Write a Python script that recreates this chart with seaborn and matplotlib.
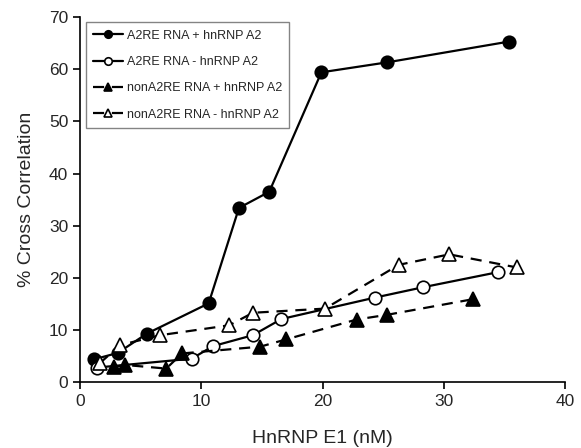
import pandas as pd
import matplotlib
matplotlib.use('Agg')
import matplotlib.pyplot as plt
import seaborn as sns

# valores
a2re_mais_x = [1.1, 3.1, 5.5, 10.6, 13.1, 15.6, 19.9, 25.3, 35.4]
a2re_mais_y = [4.35, 5.6, 9.3, 15.1, 33.4, 36.5, 59.4, 61.3, 65.3]

a2re_menos_x = [1.4, 9.2, 10.95, 14.25, 16.6, 24.3, 28.3, 34.5]
a2re_menos_y = [2.8, 4.5, 6.9, 9.0, 12.1, 16.2, 18.2, 21.1]

non_mais_x = [2.75, 3.7, 7.1, 8.4, 14.85, 17.0, 22.8, 25.3, 32.4]
non_mais_y = [2.9, 3.3, 2.6, 5.5, 6.8, 8.2, 12.0, 12.9, 15.9]

non_menos_x = [1.6, 3.3, 6.6, 12.3, 14.25, 20.2, 26.3, 30.45, 36.0]
non_menos_y = [3.6, 7.1, 9.0, 10.9, 13.3, 14.1, 22.5, 24.5, 22.0]

nomes = ['A2RE RNA + hnRNP A2', 'A2RE RNA - hnRNP A2',
         'nonA2RE RNA + hnRNP A2', 'nonA2RE RNA - hnRNP A2']

sns.set_style('ticks')
plt.rcParams['font.family'] = ['Liberation Sans', 'DejaVu Sans']

fig, ax = plt.subplots(figsize=(5.81, 4.48), dpi=100)
fig.subplots_adjust(left=0.138, right=0.9725, top=0.962, bottom=0.147)

series = [
    (a2re_mais_x, a2re_mais_y, 'o', 'black', '-'),
    (a2re_menos_x, a2re_menos_y, 'o', 'white', '-'),
    (non_mais_x, non_mais_y, '^', 'black', (0, (5, 3.5))),
    (non_menos_x, non_menos_y, '^', 'white', (0, (5, 3.5))),
]

for (xs, ys, mk, fc, ls), nome in zip(series, nomes):
    df = pd.DataFrame({'x': xs, 'y': ys})
    sns.lineplot(data=df, x='x', y='y', ax=ax, color='black', linestyle=ls,
                 linewidth=1.6, marker=mk, markersize=9 if mk == 'o' else 10,
                 markerfacecolor=fc, markeredgecolor='black',
                 markeredgewidth=1.2, label=nome, sort=False)

ax.set_xlim(0, 40)
ax.set_ylim(0, 70)
ax.set_xticks([0, 10, 20, 30, 40])
ax.set_yticks(range(0, 71, 10))
ax.tick_params(direction='out', length=5, width=1.2, labelsize=12.5, color='black')
for s in ['left', 'bottom']:
    ax.spines[s].set_linewidth(1.2)
    ax.spines[s].set_color('black')
sns.despine(ax=ax)

ax.set_xlabel('HnRNP E1 (nM)', fontsize=14, labelpad=15)
ax.set_ylabel('% Cross Correlation', fontsize=14, labelpad=10)

leg = ax.legend(loc='upper left', bbox_to_anchor=(0.012, 0.986), fontsize=9,
                frameon=True, fancybox=False, edgecolor='#666666',
                handlelength=2.4, borderpad=0.6, labelspacing=1.15,
                handletextpad=0.25, markerscale=0.6, borderaxespad=0)
leg.get_frame().set_linewidth(1.0)

plt.savefig('out.png', dpi=100)
